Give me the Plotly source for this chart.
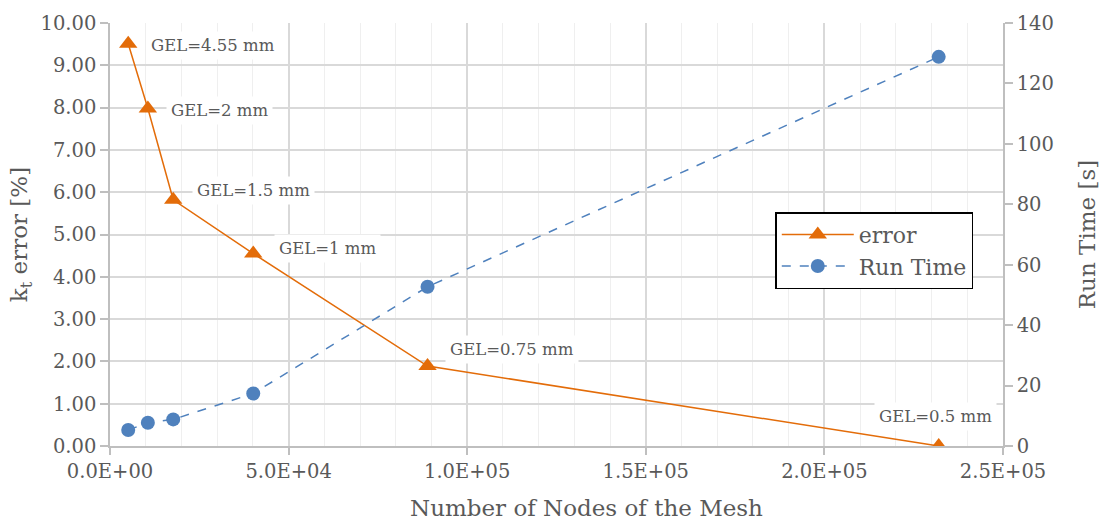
import plotly.graph_objects as go

# Mesh study: number of nodes vs. k_t error and run time
nodes = [5100, 10600, 17700, 40100, 88900, 232000]
kt_error = [9.51, 7.98, 5.82, 4.55, 1.89, 0.0]
run_time = [5.3, 7.7, 8.8, 17.4, 52.7, 128.8]
gel_labels = ["GEL=4.55 mm", "GEL=2 mm", "GEL=1.5 mm", "GEL=1 mm", "GEL=0.75 mm", "GEL=0.5 mm"]

x_tickvals = [0, 50000, 100000, 150000, 200000, 250000]
x_ticktext = ["0.0E+00", "5.0E+04", "1.0E+05", "1.5E+05", "2.0E+05", "2.5E+05"]

FONT = "DejaVu Serif"
TXT = "#595959"
ORANGE = "#E36C09"
BLUE = "#4F81BD"
GRID = "#d9d9d9"
AXIS = "#bfbfbf"

fig = go.Figure()
fig.add_trace(go.Scatter(
    x=nodes, y=kt_error, name="error", mode="lines+markers",
    line=dict(color=ORANGE, width=1.5),
    marker=dict(symbol="triangle-up", size=16, color=ORANGE),
))
fig.add_trace(go.Scatter(
    x=nodes, y=run_time, name="Run Time", mode="lines+markers", yaxis="y2",
    line=dict(color=BLUE, width=1.5, dash="dash"),
    marker=dict(symbol="circle", size=14, color=BLUE),
))

# label offsets (pixels) relative to each error point
offsets = [(18, -2, "left"), (18, -2, "left"), (19, 9, "left"),
           (21, 5, "left"), (17, 17, "left"), (-3, 30, "center")]
for xv, yv, txt, (dx, dy, anc) in zip(nodes, kt_error, gel_labels, offsets):
    fig.add_annotation(
        x=xv, y=yv, text=txt, showarrow=False,
        xanchor=anc, yanchor="middle", xshift=dx, yshift=dy,
        bgcolor="white", borderpad=4,
        font=dict(family=FONT, size=16.5, color=TXT),
    )

# horizontal axis title, placed slightly right of the plot centre
fig.add_annotation(
    x=0.534, y=-0.146, xref="paper", yref="paper",
    text="Number of Nodes of the Mesh", showarrow=False,
    xanchor="center", yanchor="middle",
    font=dict(family=FONT, size=23, color=TXT),
)

fig.update_layout(
    width=1109, height=525,
    margin=dict(l=110, r=106, t=21, b=79),
    paper_bgcolor="white", plot_bgcolor="white",
    font=dict(family=FONT, color=TXT),
    xaxis=dict(
        range=[0, 250000], tickvals=x_tickvals, ticktext=x_ticktext,
        tickfont=dict(size=19.5, color=TXT),
        showgrid=True, gridcolor=GRID, gridwidth=1.5,
        minor=dict(dtick=10000, showgrid=True, gridcolor="#efefef", gridwidth=1.3),
        showline=True, linecolor=AXIS, linewidth=1.5,
        ticks="outside", ticklen=7, tickcolor=AXIS, tickwidth=1.5,
        zeroline=False, automargin=False,
    ),
    yaxis=dict(
        range=[0, 10], dtick=1, tickformat=".2f",
        tickfont=dict(size=19.5, color=TXT),
        showgrid=True, gridcolor=GRID, gridwidth=1.5,
        showline=True, linecolor=AXIS, linewidth=1.5,
        ticks="outside", ticklen=8, tickcolor=AXIS, tickwidth=1.5,
        zeroline=False,
        title=dict(text="k<sub>t</sub> error [%]", font=dict(size=23, color=TXT), standoff=6),
    ),
    yaxis2=dict(
        range=[0, 140], dtick=20, overlaying="y", side="right",
        tickfont=dict(size=19.5, color=TXT),
        showgrid=False, zeroline=False,
        showline=True, linecolor=AXIS, linewidth=1.5,
        ticks="outside", ticklen=8, tickcolor=AXIS, tickwidth=1.5,
        title=dict(text="Run Time [s]", font=dict(size=23, color=TXT), standoff=26),
    ),
    legend=dict(
        x=0.745, y=0.553, xanchor="left", yanchor="top",
        bgcolor="white", bordercolor="black", borderwidth=1.5,
        font=dict(family=FONT, size=22, color=TXT),
        itemwidth=72,
    ),
)

fig.write_html("out.html")
